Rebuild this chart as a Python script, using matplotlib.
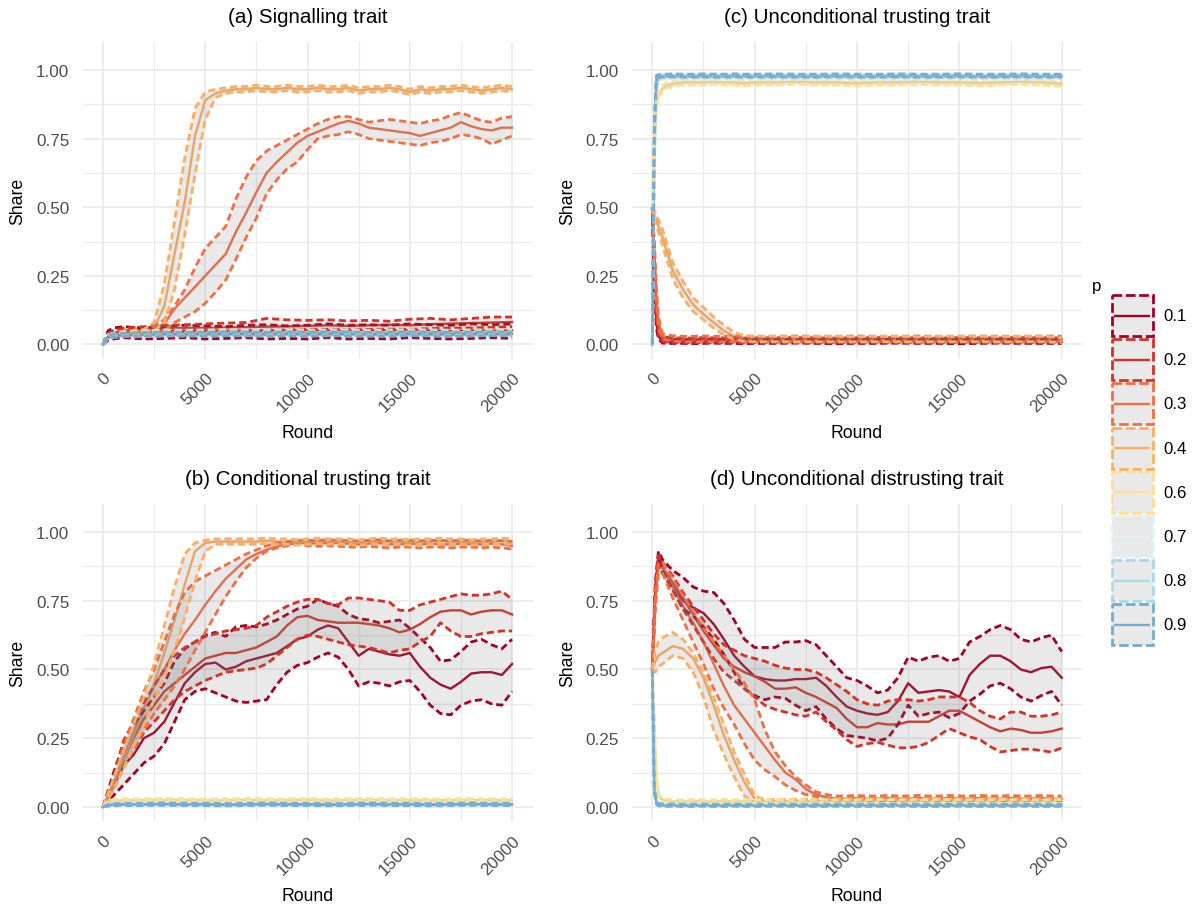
import matplotlib
matplotlib.use("Agg")
import matplotlib.pyplot as plt
from matplotlib.patches import Rectangle

plt.rcParams["font.family"] = ["Liberation Sans", "DejaVu Sans"]

# ---------------- data ----------------
P_LEVELS = [0.1, 0.2, 0.3, 0.4, 0.6, 0.7, 0.8, 0.9]
P_COLOURS = ["#A50026", "#D73027", "#F46D43", "#FDAE61",
             "#FEE090", "#E0F3F8", "#ABD9E9", "#74ADD1"]
X_TICKS = [0, 5000, 10000, 15000, 20000]
Y_TICKS = [0.0, 0.25, 0.5, 0.75, 1.0]

ROUNDS_FINE = [0, 250, 500, 1000, 1500, 2000, 2500, 3000, 3500, 4000, 4500, 5000, 5500,
               6000, 6500, 7000, 7500, 8000, 8500, 9000, 9500, 10000, 10500, 11000, 11500,
               12000, 12500, 13000, 13500, 14000, 14500, 15000, 15500, 16000, 16500, 17000,
               17500, 18000, 18500, 19000, 19500, 20000]
ROUNDS_COARSE = [0, 250, 500, 1000, 2000, 3000, 4000, 5000, 6000, 7000, 8000, 9000, 10000,
                 11000, 12000, 13000, 14000, 15000, 16000, 17000, 18000, 19000, 20000]
ROUNDS_EARLY = [0, 100, 200, 300, 500, 750, 1000, 1500, 2000, 2500, 3000, 3500, 4000, 4500,
                5000, 6000, 7000, 8000, 9000, 10000, 11000, 12000, 13000, 14000, 15000,
                16000, 17000, 18000, 19000, 20000]
ROUNDS_PEAK = [0, 150, 300, 500, 1000, 1500, 2000, 2500, 3000, 3500, 4000, 4500, 5000, 5500,
               6000, 6500, 7000, 7500, 8000, 8500, 9000, 9500, 10000, 10500, 11000, 11500,
               12000, 12500, 13000, 13500, 14000, 14500, 15000, 15500, 16000, 16500, 17000,
               17500, 18000, 18500, 19000, 19500, 20000]

# (a) Signalling trait
SIG_X = {0.1: ROUNDS_COARSE, 0.2: ROUNDS_COARSE, 0.3: ROUNDS_FINE, 0.4: ROUNDS_FINE,
         0.6: ROUNDS_COARSE, 0.7: ROUNDS_COARSE, 0.8: ROUNDS_COARSE, 0.9: ROUNDS_COARSE}
SIG_MEAN = {
    0.1: [0, .03, .04, .045, .045, .048, .05, .05, .048, .05, .05, .052, .05, .05, .048, .05, .052, .05, .05, .048, .05, .05, .05],
    0.2: [0, .03, .04, .05, .055, .058, .06, .06, .062, .063, .065, .066, .068, .07, .068, .07, .072, .07, .074, .076, .078, .08, .082],
    0.3: [0, .03, .035, .04, .045, .05, .055, .075, .13, .17, .21, .25, .29, .33, .41, .48, .555, .625, .665, .7, .735, .76, .775, .79, .805, .815, .805, .79, .785, .78, .775, .77, .76, .77, .78, .79, .81, .795, .785, .78, .79, .79],
    0.4: [0, .03, .035, .04, .045, .05, .06, .14, .33, .52, .76, .89, .915, .925, .93, .93, .935, .93, .93, .935, .93, .93, .935, .93, .93, .935, .925, .93, .93, .935, .93, .92, .93, .925, .93, .93, .935, .93, .925, .93, .935, .93],
    0.6: [0, .03, .035, .04, .042, .045, .044, .045, .046, .045, .044, .046, .045, .045, .046, .044, .045, .046, .045, .044, .045, .046, .045],
    0.7: [0, .03, .033, .036, .038, .04, .039, .04, .041, .04, .039, .041, .04, .04, .041, .039, .04, .041, .04, .039, .04, .041, .04],
    0.8: [0, .03, .033, .036, .038, .039, .04, .039, .04, .041, .04, .039, .04, .041, .04, .039, .04, .04, .041, .04, .039, .04, .041],
    0.9: [0, .028, .032, .035, .037, .038, .037, .038, .039, .038, .037, .039, .038, .038, .039, .037, .038, .039, .038, .037, .038, .039, .038],
}
SIG_LO = {
    0.1: [0, .015, .02, .025, .02, .022, .025, .02, .022, .025, .02, .022, .02, .025, .02, .022, .02, .025, .022, .02, .022, .025, .022],
    0.2: [0, .025, .03, .04, .045, .047, .048, .05, .05, .05, .052, .053, .055, .055, .054, .055, .056, .055, .058, .06, .06, .062, .065],
    0.3: [0, .025, .03, .035, .04, .042, .045, .05, .08, .1, .12, .15, .19, .235, .31, .39, .46, .55, .6, .64, .665, .71, .75, .76, .765, .775, .765, .75, .745, .74, .735, .73, .725, .735, .74, .75, .765, .76, .75, .73, .745, .76],
    0.4: [0, .025, .03, .035, .04, .045, .05, .08, .2, .4, .62, .82, .9, .915, .92, .92, .925, .92, .92, .925, .92, .92, .925, .92, .92, .925, .915, .92, .92, .925, .92, .91, .92, .915, .92, .92, .925, .92, .915, .92, .925, .92],
    0.6: [0, .025, .03, .033, .035, .037, .036, .037, .038, .037, .036, .038, .037, .037, .038, .036, .037, .038, .037, .036, .037, .038, .037],
    0.7: [0, .024, .027, .03, .031, .033, .032, .033, .034, .033, .032, .034, .033, .033, .034, .032, .033, .034, .033, .032, .033, .034, .033],
    0.8: [0, .024, .027, .03, .031, .032, .033, .032, .033, .034, .033, .032, .033, .034, .033, .032, .033, .033, .034, .033, .032, .033, .034],
    0.9: [0, .022, .026, .029, .03, .031, .03, .031, .032, .031, .03, .032, .031, .031, .032, .03, .031, .032, .031, .03, .031, .032, .031],
}
SIG_HI = {
    0.1: [0, .05, .06, .065, .06, .065, .07, .068, .065, .07, .072, .068, .07, .075, .07, .072, .07, .075, .072, .07, .075, .072, .075],
    0.2: [0, .04, .05, .06, .065, .07, .072, .075, .078, .08, .095, .09, .088, .09, .086, .088, .085, .092, .095, .09, .095, .1, .1],
    0.3: [0, .035, .04, .045, .05, .055, .065, .09, .14, .2, .28, .35, .39, .43, .53, .61, .67, .705, .725, .745, .765, .785, .805, .82, .83, .83, .82, .81, .815, .82, .815, .81, .805, .815, .82, .835, .845, .83, .815, .81, .825, .83],
    0.4: [0, .035, .04, .045, .05, .055, .08, .22, .45, .68, .86, .92, .93, .935, .94, .94, .945, .94, .94, .945, .94, .94, .945, .94, .94, .945, .935, .94, .94, .945, .94, .93, .94, .935, .94, .94, .945, .94, .935, .94, .945, .94],
    0.6: [0, .035, .04, .047, .049, .053, .052, .053, .054, .053, .052, .054, .053, .053, .054, .052, .053, .054, .053, .052, .053, .054, .053],
    0.7: [0, .036, .039, .042, .045, .047, .046, .047, .048, .047, .046, .048, .047, .047, .048, .046, .047, .048, .047, .046, .047, .048, .047],
    0.8: [0, .036, .039, .042, .045, .046, .047, .046, .047, .048, .047, .046, .047, .048, .047, .046, .047, .047, .048, .047, .046, .047, .048],
    0.9: [0, .034, .038, .041, .044, .045, .044, .045, .046, .045, .044, .046, .045, .045, .046, .044, .045, .046, .045, .044, .045, .046, .045],
}

# (b) Conditional trusting trait
COND_X = {0.1: ROUNDS_FINE, 0.2: ROUNDS_FINE, 0.3: ROUNDS_FINE, 0.4: ROUNDS_FINE,
          0.6: ROUNDS_COARSE, 0.7: ROUNDS_COARSE, 0.8: ROUNDS_COARSE, 0.9: ROUNDS_COARSE}
COND_MEAN = {
    0.1: [0, .04, .075, .15, .19, .25, .27, .31, .38, .45, .49, .52, .525, .5, .51, .53, .54, .55, .56, .585, .61, .62, .645, .66, .65, .6, .55, .575, .565, .555, .55, .56, .51, .47, .445, .43, .455, .485, .49, .49, .48, .52],
    0.2: [0, .04, .08, .17, .25, .32, .37, .42, .45, .48, .51, .54, .55, .56, .56, .57, .58, .6, .62, .66, .69, .695, .68, .675, .67, .67, .67, .665, .66, .65, .635, .645, .665, .69, .71, .715, .715, .7, .71, .715, .715, .7],
    0.3: [0, .04, .08, .18, .27, .36, .44, .5, .57, .63, .68, .735, .785, .83, .865, .9, .92, .935, .948, .955, .96, .96, .958, .96, .96, .958, .955, .958, .96, .955, .955, .958, .955, .958, .955, .955, .958, .955, .955, .958, .955, .95],
    0.4: [0, .04, .08, .17, .26, .35, .45, .56, .68, .81, .93, .96, .965, .965, .965, .965, .965, .968, .965, .965, .962, .965, .968, .965, .965, .965, .962, .965, .968, .965, .965, .962, .965, .965, .968, .965, .965, .962, .965, .965, .968, .965],
    0.6: [0, .02, .022, .025, .025, .026, .025, .024, .025, .026, .025, .025, .026, .024, .025, .026, .025, .025, .024, .025, .026, .025, .025],
    0.7: [0, .01, .012, .013, .013, .014, .013, .013, .012, .013, .014, .013, .013, .012, .013, .014, .013, .013, .012, .013, .014, .013, .013],
    0.8: [0, .008, .01, .011, .011, .012, .011, .011, .01, .011, .012, .011, .011, .01, .011, .012, .011, .011, .01, .011, .012, .011, .011],
    0.9: [0, .006, .008, .009, .009, .01, .009, .009, .008, .009, .01, .009, .009, .008, .009, .01, .009, .009, .008, .009, .01, .009, .009],
}
COND_LO = {
    0.1: [0, .02, .04, .08, .12, .16, .185, .23, .31, .39, .42, .43, .415, .4, .385, .38, .385, .39, .445, .49, .515, .525, .545, .56, .545, .5, .44, .455, .45, .44, .455, .46, .42, .37, .34, .335, .37, .385, .39, .375, .37, .42],
    0.2: [0, .03, .06, .15, .21, .27, .31, .35, .39, .42, .44, .46, .475, .49, .495, .5, .505, .52, .55, .58, .61, .625, .62, .61, .6, .59, .585, .58, .57, .56, .57, .575, .6, .62, .67, .64, .62, .62, .63, .635, .64, .64],
    0.3: [0, .03, .06, .14, .21, .28, .34, .39, .44, .5, .57, .635, .7, .765, .82, .87, .905, .93, .942, .95, .955, .95, .948, .95, .948, .945, .945, .948, .945, .942, .945, .945, .942, .945, .945, .942, .945, .945, .942, .945, .942, .938],
    0.4: [0, .03, .06, .14, .22, .3, .39, .47, .57, .69, .82, .93, .955, .955, .955, .955, .955, .958, .955, .955, .952, .955, .958, .955, .955, .955, .952, .955, .958, .955, .955, .952, .955, .955, .958, .955, .955, .952, .955, .955, .958, .955],
    0.6: [0, .015, .017, .02, .02, .021, .02, .019, .02, .021, .02, .02, .021, .019, .02, .021, .02, .02, .019, .02, .021, .02, .02],
    0.7: [0, .006, .008, .009, .009, .01, .009, .009, .008, .009, .01, .009, .009, .008, .009, .01, .009, .009, .008, .009, .01, .009, .009],
    0.8: [0, .004, .006, .007, .007, .008, .007, .007, .006, .007, .008, .007, .007, .006, .007, .008, .007, .007, .006, .007, .008, .007, .007],
    0.9: [0, .003, .004, .005, .005, .006, .005, .005, .004, .005, .006, .005, .005, .004, .005, .006, .005, .005, .004, .005, .006, .005, .005],
}
COND_HI = {
    0.1: [0, .06, .12, .23, .3, .35, .4, .45, .53, .575, .6, .625, .635, .62, .655, .66, .655, .665, .68, .7, .72, .73, .755, .74, .73, .7, .685, .68, .67, .675, .68, .65, .615, .58, .53, .535, .565, .6, .61, .59, .575, .61],
    0.2: [0, .05, .1, .24, .31, .38, .44, .5, .55, .58, .6, .62, .63, .64, .645, .65, .66, .69, .71, .73, .745, .755, .755, .74, .735, .76, .76, .755, .75, .745, .715, .715, .735, .745, .755, .765, .775, .77, .77, .775, .785, .755],
    0.3: [0, .05, .1, .22, .32, .42, .5, .6, .7, .78, .82, .84, .86, .88, .9, .92, .935, .95, .96, .965, .97, .97, .97, .972, .97, .97, .968, .97, .972, .968, .97, .97, .968, .97, .97, .968, .97, .97, .968, .97, .968, .965],
    0.4: [0, .05, .1, .2, .3, .4, .52, .66, .8, .92, .96, .97, .975, .975, .975, .975, .975, .978, .975, .975, .972, .975, .978, .975, .975, .975, .972, .975, .978, .975, .975, .972, .975, .975, .978, .975, .975, .972, .975, .975, .978, .975],
    0.6: [0, .025, .027, .03, .03, .031, .03, .029, .03, .031, .03, .03, .031, .029, .03, .031, .03, .03, .029, .03, .031, .03, .03],
    0.7: [0, .014, .016, .017, .017, .018, .017, .017, .016, .017, .018, .017, .017, .016, .017, .018, .017, .017, .016, .017, .018, .017, .017],
    0.8: [0, .012, .014, .015, .015, .016, .015, .015, .014, .015, .016, .015, .015, .014, .015, .016, .015, .015, .014, .015, .016, .015, .015],
    0.9: [0, .009, .012, .013, .013, .014, .013, .013, .012, .013, .014, .013, .013, .012, .013, .014, .013, .013, .012, .013, .014, .013, .013],
}

# (c) Unconditional trusting trait
UTRUST_X = {p: ROUNDS_EARLY for p in P_LEVELS}
UTRUST_MEAN = {
    0.1: [.5, .25, .08, .03, .012, .01, .01, .01, .009, .01, .011, .01, .01, .009, .01, .01, .011, .01, .009, .01, .01, .011, .01, .01, .009, .01, .011, .01, .01, .01],
    0.2: [.5, .3, .12, .05, .02, .017, .015, .015, .014, .016, .015, .015, .016, .014, .015, .015, .016, .015, .014, .015, .016, .015, .015, .014, .016, .015, .015, .016, .015, .015],
    0.3: [.5, .35, .18, .08, .03, .025, .022, .02, .02, .021, .02, .02, .021, .02, .02, .02, .021, .02, .02, .021, .02, .02, .021, .02, .02, .021, .02, .02, .021, .02],
    0.4: [.5, .47, .45, .43, .39, .33, .27, .2, .145, .11, .08, .05, .03, .022, .02, .02, .018, .02, .02, .018, .02, .02, .018, .02, .02, .02, .018, .02, .02, .015],
    0.6: [.5, .75, .87, .91, .935, .945, .95, .955, .955, .955, .958, .955, .955, .952, .955, .955, .958, .955, .955, .952, .955, .955, .958, .955, .955, .952, .955, .958, .955, .95],
    0.7: [0, .6, .93, .965, .97, .972, .972, .973, .972, .972, .973, .972, .972, .973, .972, .972, .973, .972, .972, .973, .972, .972, .973, .972, .972, .973, .972, .972, .973, .972],
    0.8: [0, .7, .95, .974, .976, .977, .977, .976, .977, .977, .976, .977, .977, .976, .977, .977, .976, .977, .977, .976, .977, .977, .976, .977, .977, .976, .977, .977, .976, .977],
    0.9: [0, .8, .97, .978, .98, .98, .981, .98, .98, .981, .98, .98, .981, .98, .98, .981, .98, .98, .981, .98, .98, .981, .98, .98, .981, .98, .98, .981, .98, .98],
}
UTRUST_LO = {
    0.1: [.5, .22, .06, .02, .005, .004, .004, .004, .003, .004, .005, .004, .004, .003, .004, .004, .005, .004, .003, .004, .004, .005, .004, .004, .003, .004, .005, .004, .004, .004],
    0.2: [.5, .27, .1, .035, .01, .008, .007, .007, .006, .008, .007, .007, .008, .006, .007, .007, .008, .007, .006, .007, .008, .007, .007, .006, .008, .007, .007, .008, .007, .007],
    0.3: [.5, .32, .15, .06, .02, .015, .012, .01, .01, .011, .01, .01, .011, .01, .01, .01, .011, .01, .01, .011, .01, .01, .011, .01, .01, .011, .01, .01, .011, .01],
    0.4: [.5, .45, .43, .41, .36, .3, .24, .17, .12, .09, .06, .035, .018, .012, .01, .01, .009, .01, .01, .009, .01, .01, .009, .01, .01, .01, .009, .01, .01, .007],
    0.6: [.5, .73, .855, .9, .925, .935, .94, .945, .945, .945, .948, .945, .945, .942, .945, .945, .948, .945, .945, .942, .945, .945, .948, .945, .945, .942, .945, .948, .945, .94],
    0.7: [0, .57, .91, .958, .964, .966, .966, .967, .966, .966, .967, .966, .966, .967, .966, .966, .967, .966, .966, .967, .966, .966, .967, .966, .966, .967, .966, .966, .967, .966],
    0.8: [0, .67, .935, .969, .971, .972, .972, .971, .972, .972, .971, .972, .972, .971, .972, .972, .971, .972, .972, .971, .972, .972, .971, .972, .972, .971, .972, .972, .971, .972],
    0.9: [0, .77, .96, .973, .975, .975, .976, .975, .975, .976, .975, .975, .976, .975, .975, .976, .975, .975, .976, .975, .975, .976, .975, .975, .976, .975, .975, .976, .975, .975],
}
UTRUST_HI = {
    0.1: [.5, .28, .1, .04, .02, .017, .017, .018, .016, .017, .019, .017, .018, .016, .017, .018, .019, .017, .016, .018, .017, .019, .017, .018, .016, .017, .019, .017, .018, .017],
    0.2: [.5, .33, .14, .065, .03, .026, .024, .024, .023, .025, .024, .024, .025, .023, .024, .024, .025, .024, .023, .024, .025, .024, .024, .023, .025, .024, .024, .025, .024, .024],
    0.3: [.5, .38, .21, .1, .04, .035, .032, .03, .03, .031, .03, .03, .031, .03, .03, .03, .031, .03, .03, .031, .03, .03, .031, .03, .03, .031, .03, .03, .031, .03],
    0.4: [.5, .49, .47, .455, .42, .36, .3, .23, .17, .135, .1, .07, .045, .032, .03, .03, .028, .03, .03, .028, .03, .03, .028, .03, .03, .03, .028, .03, .03, .025],
    0.6: [.5, .77, .885, .92, .945, .955, .96, .965, .965, .965, .968, .965, .965, .962, .965, .965, .968, .965, .965, .962, .965, .965, .968, .965, .965, .962, .965, .968, .965, .96],
    0.7: [0, .63, .95, .972, .976, .978, .978, .979, .978, .978, .979, .978, .978, .979, .978, .978, .979, .978, .978, .979, .978, .978, .979, .978, .978, .979, .978, .978, .979, .978],
    0.8: [0, .73, .965, .979, .981, .982, .982, .981, .982, .982, .981, .982, .982, .981, .982, .982, .981, .982, .982, .981, .982, .982, .981, .982, .982, .981, .982, .982, .981, .982],
    0.9: [0, .83, .98, .983, .985, .985, .986, .985, .985, .986, .985, .985, .986, .985, .985, .986, .985, .985, .986, .985, .985, .986, .985, .985, .986, .985, .985, .986, .985, .985],
}

# (d) Unconditional distrusting trait
UDIST_X = {0.1: ROUNDS_PEAK, 0.2: ROUNDS_PEAK, 0.3: ROUNDS_PEAK, 0.4: ROUNDS_PEAK,
           0.6: ROUNDS_EARLY, 0.7: ROUNDS_EARLY, 0.8: ROUNDS_EARLY, 0.9: ROUNDS_EARLY}
UDIST_MEAN = {
    0.1: [.5, .8, .92, .87, .8, .75, .725, .705, .665, .61, .55, .51, .475, .465, .46, .46, .465, .465, .47, .44, .4, .365, .35, .34, .335, .345, .385, .45, .415, .42, .425, .42, .4, .48, .52, .55, .55, .53, .5, .49, .505, .51, .47],
    0.2: [.5, .78, .9, .87, .815, .76, .7, .64, .59, .54, .51, .49, .475, .455, .43, .43, .435, .415, .4, .38, .36, .32, .29, .29, .305, .3, .3, .31, .31, .31, .33, .35, .35, .33, .31, .29, .275, .285, .28, .27, .27, .275, .285],
    0.3: [.5, .75, .87, .87, .8, .73, .67, .6, .52, .44, .37, .32, .27, .22, .17, .125, .1, .065, .045, .035, .03, .03, .032, .03, .03, .032, .03, .03, .032, .03, .03, .032, .03, .03, .032, .03, .03, .032, .03, .03, .032, .03, .03],
    0.4: [.5, .53, .55, .56, .585, .575, .54, .47, .37, .26, .17, .09, .03, .02, .02, .02, .021, .02, .02, .021, .02, .02, .021, .02, .02, .021, .02, .02, .021, .02, .02, .021, .02, .02, .021, .02, .02, .021, .02, .02, .021, .02, .02],
    0.6: [.5, .3, .1, .04, .025, .022, .02, .02, .021, .02, .02, .021, .02, .02, .021, .02, .02, .021, .02, .02, .021, .02, .02, .021, .02, .02, .021, .02, .02, .021],
    0.7: [.5, .08, .02, .012, .01, .009, .009, .01, .009, .009, .01, .009, .009, .01, .009, .009, .01, .009, .009, .01, .009, .009, .01, .009, .009, .01, .009, .009, .01, .009],
    0.8: [.5, .07, .018, .01, .008, .008, .007, .008, .008, .007, .008, .008, .007, .008, .008, .007, .008, .008, .007, .008, .008, .007, .008, .008, .007, .008, .008, .007, .008, .008],
    0.9: [.5, .06, .015, .008, .006, .005, .006, .005, .005, .006, .005, .005, .006, .005, .005, .006, .005, .005, .006, .005, .005, .006, .005, .005, .006, .005, .005, .006, .005, .005],
}
UDIST_LO = {
    0.1: [.5, .78, .9, .86, .79, .72, .695, .655, .61, .555, .49, .43, .405, .39, .4, .395, .37, .35, .365, .32, .285, .26, .255, .25, .24, .25, .3, .37, .33, .34, .345, .325, .34, .385, .41, .44, .45, .43, .4, .385, .405, .42, .37],
    0.2: [.5, .76, .88, .85, .79, .72, .66, .6, .54, .49, .46, .43, .4, .37, .355, .345, .335, .33, .345, .31, .28, .245, .22, .23, .235, .225, .215, .215, .22, .235, .26, .285, .27, .255, .245, .22, .2, .205, .21, .21, .205, .2, .215],
    0.3: [.5, .72, .85, .85, .76, .68, .6, .52, .43, .36, .3, .23, .17, .135, .11, .08, .06, .045, .038, .033, .025, .022, .024, .022, .022, .024, .022, .022, .024, .022, .022, .024, .022, .022, .024, .022, .022, .024, .022, .022, .024, .022, .022],
    0.4: [.5, .49, .51, .52, .55, .54, .49, .4, .28, .19, .11, .04, .015, .013, .013, .013, .014, .013, .013, .014, .013, .013, .014, .013, .013, .014, .013, .013, .014, .013, .013, .014, .013, .013, .014, .013, .013, .014, .013, .013, .014, .013, .013],
    0.6: [.5, .28, .085, .032, .018, .016, .014, .014, .015, .014, .014, .015, .014, .014, .015, .014, .014, .015, .014, .014, .015, .014, .014, .015, .014, .014, .015, .014, .014, .015],
    0.7: [.5, .07, .015, .008, .006, .005, .005, .006, .005, .005, .006, .005, .005, .006, .005, .005, .006, .005, .005, .006, .005, .005, .006, .005, .005, .006, .005, .005, .006, .005],
    0.8: [.5, .06, .013, .006, .004, .004, .003, .004, .004, .003, .004, .004, .003, .004, .004, .003, .004, .004, .003, .004, .004, .003, .004, .004, .003, .004, .004, .003, .004, .004],
    0.9: [.5, .05, .01, .004, .002, .002, .003, .002, .002, .003, .002, .002, .003, .002, .002, .003, .002, .002, .003, .002, .002, .003, .002, .002, .003, .002, .002, .003, .002, .002],
}
UDIST_HI = {
    0.1: [.5, .82, .93, .9, .86, .835, .8, .785, .78, .74, .68, .61, .58, .58, .58, .6, .6, .605, .59, .55, .51, .47, .46, .44, .415, .425, .47, .545, .53, .545, .55, .53, .54, .6, .62, .645, .66, .645, .61, .6, .615, .625, .565],
    0.2: [.5, .8, .915, .89, .84, .78, .73, .68, .63, .59, .57, .55, .54, .53, .515, .505, .5, .5, .49, .47, .445, .42, .39, .375, .37, .385, .39, .39, .385, .39, .4, .4, .4, .38, .35, .33, .32, .345, .345, .33, .33, .335, .345],
    0.3: [.5, .77, .89, .89, .83, .77, .71, .65, .6, .55, .5, .45, .39, .28, .2, .15, .11, .08, .055, .045, .04, .04, .042, .04, .04, .042, .04, .04, .042, .04, .04, .042, .04, .04, .042, .04, .04, .042, .04, .04, .042, .04, .04],
    0.4: [.5, .57, .6, .615, .635, .61, .56, .49, .4, .3, .2, .12, .04, .027, .027, .027, .028, .027, .027, .028, .027, .027, .028, .027, .027, .028, .027, .027, .028, .027, .027, .028, .027, .027, .028, .027, .027, .028, .027, .027, .028, .027, .027],
    0.6: [.5, .32, .115, .048, .032, .028, .026, .026, .027, .026, .026, .027, .026, .026, .027, .026, .026, .027, .026, .026, .027, .026, .026, .027, .026, .026, .027, .026, .026, .027],
    0.7: [.5, .09, .025, .016, .014, .013, .013, .014, .013, .013, .014, .013, .013, .014, .013, .013, .014, .013, .013, .014, .013, .013, .014, .013, .013, .014, .013, .013, .014, .013],
    0.8: [.5, .08, .023, .014, .012, .012, .011, .012, .012, .011, .012, .012, .011, .012, .012, .011, .012, .012, .011, .012, .012, .011, .012, .012, .011, .012, .012, .011, .012, .012],
    0.9: [.5, .07, .02, .012, .01, .009, .01, .009, .009, .01, .009, .009, .01, .009, .009, .01, .009, .009, .01, .009, .009, .01, .009, .009, .01, .009, .009, .01, .009, .009],
}

# ---------------- layout ----------------
W, H = 1196, 912
RIBBON = "#7F7F7F"
RIBBON_ALPHA = 0.17
GRID = "#EBEBEB"
DASH = (0, (2.6, 1.4))

fig = plt.figure(figsize=(W / 100, H / 100), dpi=100, facecolor="white")


def px_axes(left, top, right, bottom):
    return fig.add_axes([left / W, 1 - bottom / H, (right - left) / W, (bottom - top) / H])


def draw_panel(ax, xs, mean, lo, hi):
    # mean lines first, ribbons (grey fill + dashed outline) over them
    for p, col in zip(P_LEVELS, P_COLOURS):
        ax.plot(xs[p], mean[p], color=col, lw=1.7, zorder=2, solid_joinstyle="round")
    z = 3
    for p, col in zip(P_LEVELS, P_COLOURS):
        ax.fill_between(xs[p], lo[p], hi[p], color=RIBBON, alpha=RIBBON_ALPHA, lw=0, zorder=z)
        ax.plot(xs[p], lo[p], color=col, lw=2.0, ls=DASH, zorder=z + 0.5)
        ax.plot(xs[p], hi[p], color=col, lw=2.0, ls=DASH, zorder=z + 0.5)
        z += 1

    ax.set_xlim(-1000, 21000)
    ax.set_ylim(-0.0525, 1.1025)
    ax.set_xticks(X_TICKS)
    ax.set_xticklabels([str(v) for v in X_TICKS])
    ax.set_yticks(Y_TICKS)
    ax.set_yticklabels(["%.2f" % v for v in Y_TICKS])
    ax.set_xticks([2500, 7500, 12500, 17500], minor=True)
    ax.set_yticks([0.125, 0.375, 0.625, 0.875], minor=True)
    ax.grid(which="major", color=GRID, lw=1.35, zorder=0)
    ax.grid(which="minor", color=GRID, lw=0.9, zorder=0)
    ax.set_axisbelow(True)
    for s in ax.spines.values():
        s.set_visible(False)
    ax.tick_params(which="both", length=0)
    ax.tick_params(axis="y", pad=9.5, labelsize=12.3, labelcolor="#4D4D4D")
    ax.tick_params(axis="x", pad=8, labelsize=12.3, labelcolor="#4D4D4D")
    plt.setp(ax.get_xticklabels(), rotation=45, ha="right", va="top", rotation_mode="anchor")


def fig_text(x, y, s, **kw):
    fig.text(x / W, 1 - y / H, s, **kw)


panels = [
    ((82.5, 42.9, 532.5, 359.9), "(a) Signalling trait", SIG_X, SIG_MEAN, SIG_LO, SIG_HI),
    ((82.5, 504.8, 532.5, 822.4), "(b) Conditional trusting trait", COND_X, COND_MEAN, COND_LO, COND_HI),
    ((631.8, 42.9, 1082.2, 359.9), "(c) Unconditional trusting trait", UTRUST_X, UTRUST_MEAN, UTRUST_LO, UTRUST_HI),
    ((631.8, 504.8, 1082.2, 822.4), "(d) Unconditional distrusting trait", UDIST_X, UDIST_MEAN, UDIST_LO, UDIST_HI),
]

for (l, t, r, b), title, xs, mean, lo, hi in panels:
    ax = px_axes(l, t, r, b)
    draw_panel(ax, xs, mean, lo, hi)
    cx = (l + r) / 2
    fig_text(cx, t - 25, title, ha="center", va="center", fontsize=14.8, color="black")
    fig_text(cx, b + 74, "Round", ha="center", va="center", fontsize=12.7, color="black")
    fig_text(l - 64.5, (t + b) / 2, "Share", ha="center", va="center", rotation=90,
             fontsize=12.7, color="black")

# ---------------- legend ----------------
leg = fig.add_axes([0, 0, 1, 1], zorder=5)
leg.set_xlim(0, W)
leg.set_ylim(H, 0)
leg.axis("off")
leg.patch.set_alpha(0)
leg.text(1092, 287, "p", ha="left", va="center", fontsize=12.1)
for i, (p, col) in enumerate(zip(P_LEVELS, P_COLOURS)):
    y0 = 296 + i * 44.2
    yc = y0 + 20.5
    leg.plot([1114, 1150], [yc, yc], color=col, lw=1.7, solid_capstyle="butt")
    leg.add_patch(Rectangle((1111.5, y0), 41, 41, facecolor=RIBBON, alpha=RIBBON_ALPHA, lw=0))
    leg.add_patch(Rectangle((1111.5, y0), 41, 41, facecolor="none", edgecolor=col,
                            lw=2.0, ls=(0, (3.5, 1.3))))
    leg.text(1163, yc, "%.1f" % p, ha="left", va="center", fontsize=12.1)

fig.savefig("out.png", dpi=100, facecolor="white")
